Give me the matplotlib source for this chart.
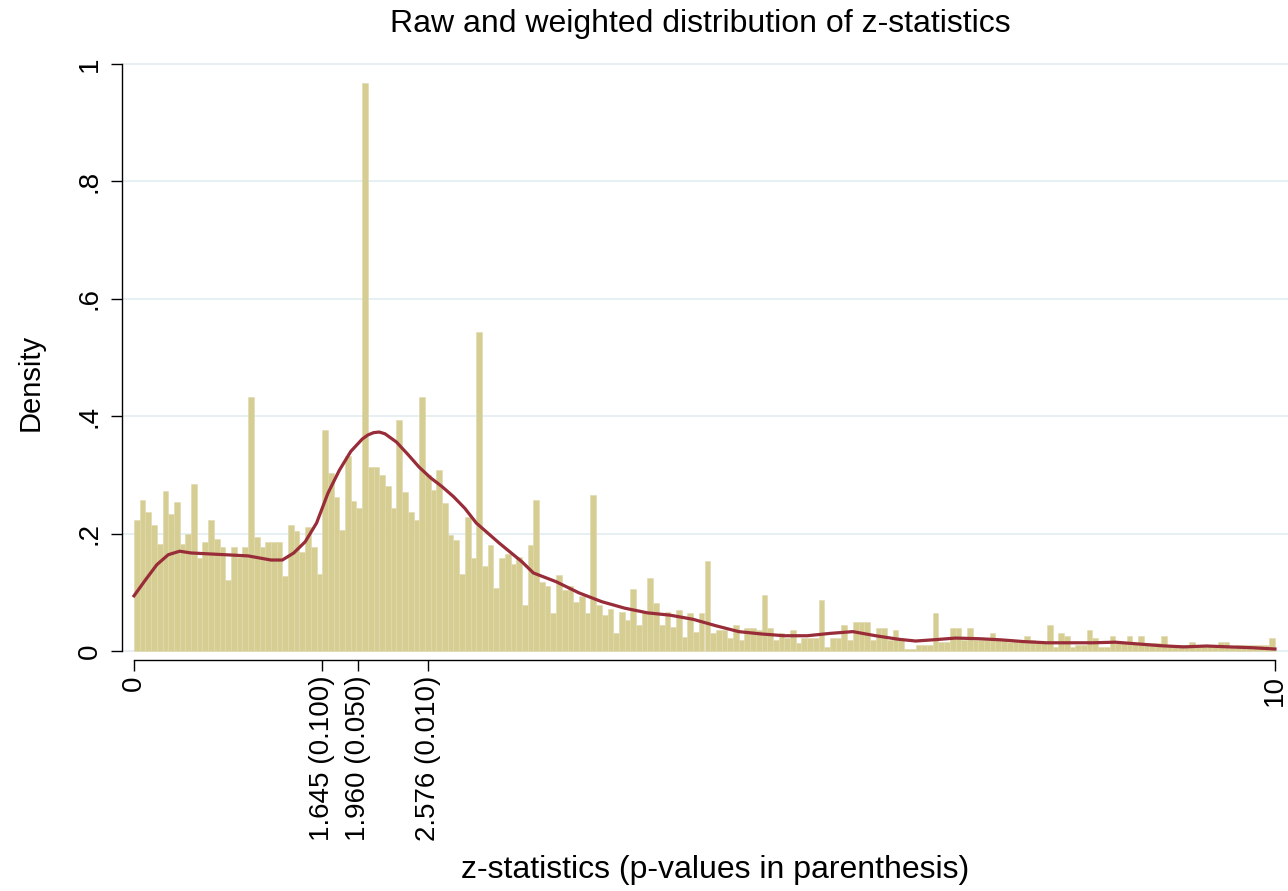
import numpy as np
import matplotlib
matplotlib.use('Agg')
import matplotlib.pyplot as plt

# Histogram of z-statistics, bins of width 0.05 from 0 to 10
bin_width = 0.05
bar_heights = [
    # 0.0 - 1.0
    .223, .257, .237, .215, .183, .273, .233, .253, .183, .200,
    .285, .158, .185, .224, .190, .178, .121, .177, .160, .177,
    # 1.0 - 2.0
    .432, .195, .178, .185, .185, .185, .127, .215, .205, .169,
    .211, .178, .132, .376, .304, .263, .206, .332, .256, .243,
    # 2.0 - 3.0
    .967, .314, .314, .300, .281, .243, .393, .271, .237, .223,
    .432, .300, .274, .309, .252, .198, .189, .132, .229, .158,
    # 3.0 - 4.0
    .543, .144, .180, .107, .158, .166, .149, .160, .078, .180,
    .257, .118, .110, .064, .130, .104, .110, .084, .093, .064,
    # 4.0 - 5.0
    .266, .078, .061, .071, .030, .067, .053, .105, .044, .067,
    .125, .082, .044, .067, .041, .069, .024, .064, .033, .064,
    # 5.0 - 6.0
    .154, .030, .036, .036, .022, .044, .019, .040, .040, .036,
    .095, .040, .019, .031, .022, .036, .013, .022, .022, .022,
    # 6.0 - 7.0
    .087, .007, .022, .022, .044, .019, .050, .050, .050, .019,
    .039, .039, .019, .036, .019, .003, .003, .010, .010, .010,
    # 7.0 - 8.0
    .064, .016, .016, .040, .040, .019, .040, .019, .019, .019,
    .030, .019, .019, .016, .019, .016, .026, .019, .013, .013,
    # 8.0 - 9.0
    .044, .007, .030, .026, .007, .010, .010, .035, .022, .007,
    .007, .026, .013, .013, .026, .013, .026, .013, .013, .013,
    # 9.0 - 10.0
    .026, .010, .010, .010, .010, .016, .010, .010, .010, .010,
    .016, .016, .007, .011, .011, .011, .011, .011, .011, .022,
]
bin_left = np.arange(len(bar_heights)) * bin_width

# Weighted density curve
kde_x = [0, 0.1, 0.2, 0.3, 0.4, 0.5, 0.7, 1.0, 1.2, 1.3, 1.4, 1.5, 1.6, 1.7,
         1.8, 1.9, 2.0, 2.05, 2.1, 2.15, 2.2, 2.3, 2.4, 2.5, 2.6, 2.7, 2.8,
         2.9, 3.0, 3.2, 3.4, 3.5, 3.7, 3.9, 4.1, 4.3, 4.5, 4.7, 4.9, 5.1,
         5.3, 5.5, 5.7, 5.9, 6.1, 6.3, 6.5, 6.7, 6.85, 7.0, 7.2, 7.4, 7.6,
         7.8, 8.0, 8.2, 8.4, 8.6, 8.8, 9.0, 9.2, 9.4, 9.6, 9.8, 10.0]
kde_y = [.094, .121, .147, .164, .170, .167, .165, .162, .155, .155, .167, .186,
         .218, .269, .308, .340, .361, .368, .372, .373, .370, .356, .335, .313,
         .295, .280, .263, .243, .218, .184, .152, .133, .118, .099, .084, .073,
         .065, .061, .054, .043, .033, .029, .026, .026, .030, .033, .026, .020,
         .017, .019, .022, .021, .019, .016, .014, .014, .014, .015, .012, .009,
         .007, .0085, .007, .0056, .0034]

# Tick labels
x_ticks = [0, 1.645, 1.960, 2.576, 10]
x_tick_labels = ['0', '1.645 (0.100)', '1.960 (0.050)', '2.576 (0.010)', '10']
y_ticks = [0, 0.2, 0.4, 0.6, 0.8, 1.0]
y_tick_labels = ['0', '.2', '.4', '.6', '.8', '1']

bar_color = '#d5cd92'
bar_edge = '#e0daae'
line_color = '#982c38'
grid_color = '#e2edf1'
tick_size = 20

plt.rcParams['font.family'] = ['Liberation Sans', 'DejaVu Sans']

W, H = 1288, 891
fig = plt.figure(figsize=(W / 100, H / 100), dpi=100)
fig.patch.set_facecolor('white')

# axes placed in pixel terms: left 122, right 1288, top 45, bottom 660
ax = fig.add_axes([122 / W, 1 - 660 / H, (1288 - 122) / W, (660 - 45) / H])

ax.bar(bin_left, bar_heights, width=bin_width, align='edge',
       color=bar_color, edgecolor=bar_edge, linewidth=0.4, zorder=2)
ax.plot(kde_x, kde_y, color=line_color, linewidth=2.3, zorder=3,
        solid_joinstyle='round')

# 0 at pixel 134, 10 at 1275 ; 0 at 651, 1 at 64
px_x = (1275 - 134) / 10
px_y = (651 - 64) / 1
ax.set_xlim(-12 / px_x, 10 + 13 / px_x)
ax.set_ylim(-9 / px_y, 1 + 19 / px_y)

ax.set_yticks(y_ticks)
ax.set_yticklabels(y_tick_labels, rotation=90, va='center', fontsize=tick_size)
ax.set_xticks(x_ticks)
ax.set_xticklabels(x_tick_labels, rotation=90, ha='center', va='top', fontsize=tick_size)
ax.tick_params(axis='both', direction='out', length=8, width=1, color='black')
ax.tick_params(axis='x', pad=3)
ax.tick_params(axis='y', pad=6)

ax.grid(True, axis='y', color=grid_color, linewidth=1.2, zorder=0)
ax.set_axisbelow(True)

ax.spines['top'].set_visible(False)
ax.spines['right'].set_visible(False)
ax.spines['left'].set_bounds(0, 1)
ax.spines['bottom'].set_bounds(0, 10)
ax.spines['left'].set_linewidth(1)
ax.spines['bottom'].set_linewidth(1)

fig.text(700 / W, 1 - 24 / H, 'Raw and weighted distribution of z-statistics',
         ha='center', va='center', fontsize=23)
fig.text(715 / W, 1 - 870 / H, 'z-statistics (p-values in parenthesis)',
         ha='center', va='center', fontsize=23)
fig.text(31 / W, 1 - 382 / H, 'Density', rotation=90,
         ha='center', va='center', fontsize=21)

fig.savefig('out.png', dpi=100)
